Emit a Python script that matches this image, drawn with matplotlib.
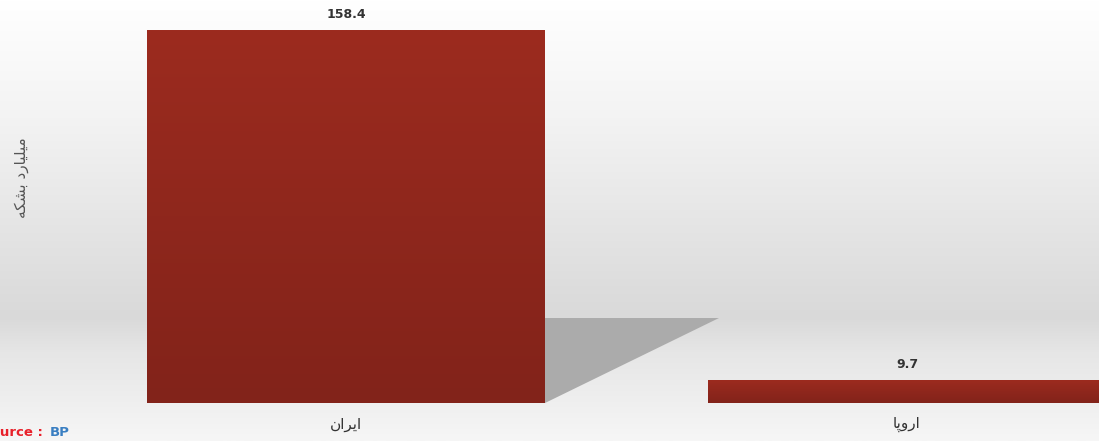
import numpy as np
import matplotlib
matplotlib.use("Agg")
import matplotlib.pyplot as plt
from matplotlib.colors import LinearSegmentedColormap
from matplotlib.patches import Polygon

# data (Arabic script written in presentation forms, visual order)
regions = ["\uFEE5\uFE8D\uFEAE\uFBFE\uFE8D",   # Iran
           "\uFE8E\uFB58\uFEED\uFEAD\uFE8D"]   # Europe
reserves = [158.4, 9.7]
value_labels = ["158.4", "9.7"]
ylabel = "\uFEEA\uFB91\uFEB8\uFE91 \uFEA9\uFEAD\uFE8E\uFBFF\uFEE0\uFBFF\uFEE3"

plt.rcParams['font.family'] = ['DejaVu Sans']

fig = plt.figure(figsize=(10.99, 4.41), dpi=100)

# background gradient
bg = fig.add_axes([0, 0, 1, 1], zorder=0)
bg_cmap = LinearSegmentedColormap.from_list(
    "bg", [(0, "#ffffff"), (0.25, "#f4f4f4"), (0.72, "#d9d9d9"),
           (0.80, "#e6e6e6"), (1.0, "#f6f6f6")])
bg.imshow(np.linspace(0, 1, 256).reshape(-1, 1), aspect="auto", cmap=bg_cmap,
          extent=[0, 1, 0, 1], origin="upper")
bg.axis("off")

ax = fig.add_axes([0, 38 / 441, 1, 403 / 441], zorder=1)
ax.patch.set_visible(False)
x = np.arange(len(regions))
bars = ax.bar(x, reserves, width=0.709, color="#8f271d", zorder=2)

# gradient fill on bars
bar_cmap = LinearSegmentedColormap.from_list("bar", ["#9c2b1f", "#82231a"])
grad = np.linspace(0, 1, 256).reshape(-1, 1)
for b in bars:
    im = ax.imshow(grad, aspect="auto", cmap=bar_cmap, origin="upper",
                   extent=[b.get_x(), b.get_x() + b.get_width(), 0, b.get_height()],
                   zorder=3)
    im.set_clip_path(b)

# shadow behind first bar
b0 = bars[0]
right = b0.get_x() + b0.get_width()
shadow = Polygon([(right, 0), (right, b0.get_height() * 0.228),
                  (right + 0.31, b0.get_height() * 0.228)],
                 closed=True, color="#ababab", zorder=1, lw=0)
ax.add_patch(shadow)
ax.set_xlim(-346 / 561, (1099 - 346) / 561)
ax.set_ylim(0, 403 / (373 / 158.4))

for xi, v, lab in zip(x, reserves, value_labels):
    ax.text(xi, v + 4, lab, ha="center", va="bottom", fontsize=9,
            fontweight="bold", color="#333333", zorder=4)

ax.set_xticks(x)
ax.set_xticklabels(regions, fontsize=11, color="#333333")
ax.tick_params(axis="x", length=0, pad=10)
ax.set_yticks([])
for s in ax.spines.values():
    s.set_visible(False)

fig.text(22 / 1099, 1 - 178 / 441, ylabel, rotation=90, ha="center", va="center",
         fontsize=11, color="#555555")

fig.text(43 / 1099, 8 / 441, "Source :", color="#e8202a", fontsize=9.5,
         fontweight="bold", ha="right", va="center")
fig.text(50 / 1099, 8 / 441, "BP", color="#3a7fc2", fontsize=9.5,
         fontweight="bold", ha="left", va="center")

fig.savefig("out.png", dpi=100)
